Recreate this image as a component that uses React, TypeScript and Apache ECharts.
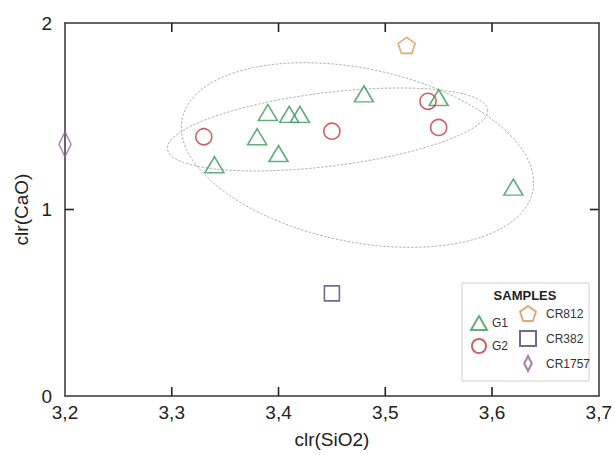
import React, { useEffect, useRef } from "react";
import * as echarts from "echarts";

// ---- data ----
const g1X = [3.34, 3.38, 3.39, 3.40, 3.41, 3.42, 3.48, 3.55, 3.62];
const g1Y = [1.24, 1.39, 1.52, 1.30, 1.51, 1.51, 1.62, 1.60, 1.12];
const g2X = [3.33, 3.45, 3.54, 3.55];
const g2Y = [1.39, 1.42, 1.58, 1.44];
const cr812 = [3.52, 1.88];
const cr382 = [3.45, 0.55];
const cr1757 = [3.2, 1.35];

// confidence ellipses: [centerX, centerY, halfWidthX, halfHeightY, correlation]
const ellipseA = [3.446, 1.429, 0.150, 0.2225, 0.45];
const ellipseB = [3.474, 1.292, 0.165, 0.495, -0.30];

const xTicks = [3.2, 3.3, 3.4, 3.5, 3.6, 3.7];
const yTicks = [0, 1, 2];

const FONT = "'Liberation Sans', Arial, sans-serif";
const GREEN = "#3d9a5c";
const RED = "#c23a3c";
const ORANGE = "#d99358";
const NAVY = "#474779";
const PURPLE = "#9a5c9e";
const PENTAGON =
  "path://M0,-1 L0.951,-0.309 L0.588,0.809 L-0.588,0.809 L-0.951,-0.309 Z";
const TALL_DIAMOND = "path://M5,0 L10,10 L5,20 L0,10 Z";
const TICK_LEN = 9;
const TICK_W = 1.6;

function ellipsePoints(e: number[]) {
  const [cx, cy, hx, hy, rho] = e;
  const pts: number[][] = [];
  const s = Math.sqrt(1 - rho * rho);
  for (let i = 0; i <= 180; i++) {
    const t = (i / 180) * Math.PI * 2;
    pts.push([cx + hx * Math.cos(t), cy + hy * (rho * Math.cos(t) + s * Math.sin(t))]);
  }
  return pts;
}

function zip(xs: number[], ys: number[]) {
  return xs.map((x, i) => [x, ys[i]]);
}

function hollow(color: string) {
  return { color: "rgba(255,255,255,0)", borderColor: color, borderWidth: 1.6 };
}

export default function App() {
  const ref = useRef<HTMLDivElement>(null);
  useEffect(() => {
    if (!ref.current) return;
    const chart = echarts.init(ref.current, undefined, { renderer: "svg" });
    const axisLine = { show: true, onZero: false, lineStyle: { color: "#333", width: 1.5 } };
    const xBase = {
      type: "value" as const,
      min: xTicks[0],
      max: xTicks[xTicks.length - 1],
      interval: 0.1,
      splitLine: { show: false },
      axisTick: { show: false },
      axisLine,
    };
    const yBase = {
      type: "value" as const,
      min: yTicks[0],
      max: yTicks[yTicks.length - 1],
      interval: 1,
      splitLine: { show: false },
      axisTick: { show: false },
      axisLine,
    };
    const ellStyle = {
      type: "line" as const,
      showSymbol: false,
      silent: true,
      smooth: false,
      lineStyle: { color: "#a8a8a8", width: 0.9, type: [2.5, 1.5] as any },
      z: 1,
    };
    const legendText = { fontSize: 12, color: "#333", fontFamily: FONT };
    const baseGraphic: any[] = [
      {
        id: "legendBox",
        type: "rect",
        shape: { x: 462, y: 283, width: 127, height: 98 },
        style: { fill: "#fff", stroke: "#cfcfcf", lineWidth: 1 },
        z: 2,
      },
      {
        id: "legendTitle",
        type: "text",
        x: 525,
        y: 295,
        style: {
          text: "SAMPLES",
          fontSize: 13,
          fontWeight: "bold",
          fill: "#222",
          fontFamily: FONT,
          align: "center",
          verticalAlign: "middle",
        },
        z: 6,
      },
    ];
    chart.setOption({
      animation: false,
      textStyle: { fontFamily: FONT },
      grid: { left: 65, right: 15, top: 23, bottom: 59 },
      xAxis: [
        {
          ...xBase,
          position: "bottom",
          name: "clr(SiO2)",
          nameLocation: "middle",
          nameGap: 34,
          nameTextStyle: { fontSize: 19, color: "#222", fontFamily: FONT },
          axisLabel: {
            fontSize: 19,
            color: "#222",
            margin: 7,
            fontFamily: FONT,
            formatter: (v: number) => v.toFixed(1).replace(".", ","),
          },
        },
        { ...xBase, position: "top", axisLabel: { show: false } },
      ],
      yAxis: [
        {
          ...yBase,
          position: "left",
          name: "clr(CaO)",
          nameLocation: "middle",
          nameGap: 18,
          nameTextStyle: { fontSize: 19, color: "#222", fontFamily: FONT },
          axisLabel: { fontSize: 19, color: "#222", margin: 13, fontFamily: FONT },
        },
        { ...yBase, position: "right", axisLabel: { show: false } },
      ],
      legend: [
        {
          orient: "vertical",
          left: 470,
          top: 315,
          padding: 0,
          itemGap: 7,
          itemWidth: 16,
          itemHeight: 14,
          z: 10,
          textStyle: legendText,
          data: ["G1", "G2"],
        },
        {
          orient: "vertical",
          left: 519,
          top: 305,
          padding: 0,
          itemGap: 8,
          itemWidth: 16,
          itemHeight: 15,
          z: 10,
          textStyle: { ...legendText, padding: [0, 0, 0, 5] },
          data: ["CR812", "CR382", { name: "CR1757", icon: TALL_DIAMOND }],
        },
      ],
      graphic: baseGraphic,
      series: [
        { ...ellStyle, name: "ellA", data: ellipsePoints(ellipseA) },
        { ...ellStyle, name: "ellB", data: ellipsePoints(ellipseB) },
        {
          type: "scatter",
          name: "G1",
          symbol: "triangle",
          symbolSize: [19, 16],
          clip: false,
          itemStyle: hollow(GREEN),
          data: zip(g1X, g1Y),
          z: 3,
        },
        {
          type: "scatter",
          name: "G2",
          symbol: "circle",
          symbolSize: 16,
          clip: false,
          itemStyle: hollow(RED),
          data: zip(g2X, g2Y),
          z: 3,
        },
        {
          type: "scatter",
          name: "CR812",
          symbol: PENTAGON,
          symbolSize: [17, 16],
          clip: false,
          itemStyle: hollow(ORANGE),
          data: [cr812],
          z: 3,
        },
        {
          type: "scatter",
          name: "CR382",
          symbol: "rect",
          symbolSize: 15,
          clip: false,
          itemStyle: hollow(NAVY),
          data: [cr382],
          z: 3,
        },
        {
          type: "scatter",
          name: "CR1757",
          symbol: "diamond",
          symbolSize: [12, 25],
          clip: false,
          itemStyle: hollow(PURPLE),
          data: [cr1757],
          z: 3,
        },
      ],
    });

    // inward tick marks on all four sides, placed through the axes' own scales
    const px = (v: number) => Number(chart.convertToPixel({ xAxisIndex: 0 }, v));
    const py = (v: number) => Number(chart.convertToPixel({ yAxisIndex: 0 }, v));
    const left = px(xTicks[0]);
    const right = px(xTicks[xTicks.length - 1]);
    const bottom = py(yTicks[0]);
    const top = py(yTicks[yTicks.length - 1]);
    const ticks: any[] = [];
    const vTick = (id: string, x: number, y0: number, y1: number) => ({
      id,
      type: "rect",
      shape: { x: x - TICK_W / 2, y: Math.min(y0, y1), width: TICK_W, height: Math.abs(y1 - y0) },
      style: { fill: "#222" },
      z: 50,
      silent: true,
    });
    const hTick = (id: string, y: number, x0: number, x1: number) => ({
      id,
      type: "rect",
      shape: { x: Math.min(x0, x1), y: y - TICK_W / 2, width: Math.abs(x1 - x0), height: TICK_W },
      style: { fill: "#222" },
      z: 50,
      silent: true,
    });
    xTicks.slice(1, -1).forEach((v, i) => {
      const x = px(v);
      ticks.push(vTick("tb" + i, x, bottom - TICK_LEN, bottom));
      ticks.push(vTick("tt" + i, x, top, top + TICK_LEN));
    });
    yTicks.slice(1, -1).forEach((v, i) => {
      const y = py(v);
      ticks.push(hTick("tl" + i, y, left, left + TICK_LEN));
      ticks.push(hTick("tr" + i, y, right - TICK_LEN, right));
    });
    chart.setOption({ graphic: [...baseGraphic, ...ticks] });

    return () => chart.dispose();
  }, []);
  return (
    <div
      ref={ref}
      style={{ position: "fixed", left: 0, top: 0, width: 615, height: 455, background: "#fff" }}
    />
  );
}
